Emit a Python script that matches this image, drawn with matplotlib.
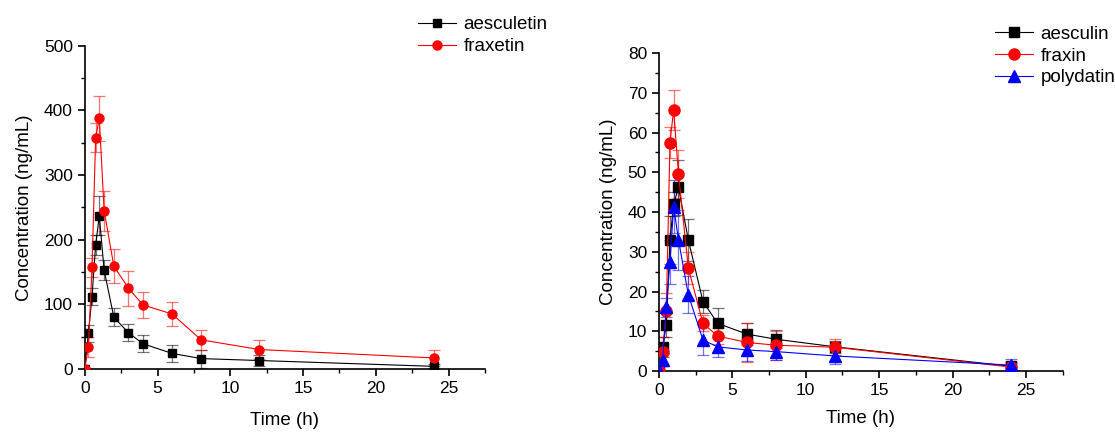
import matplotlib
matplotlib.use("Agg")
import matplotlib.pyplot as plt
from matplotlib.ticker import MultipleLocator, AutoMinorLocator

plt.rcParams['font.family'] = ['Liberation Sans', 'DejaVu Sans']

time = [0, 0.25, 0.5, 0.75, 1, 1.33, 2, 3, 4, 6, 8, 12, 24]

# Left panel
aesculetin = [0, 55, 112, 192, 237, 153, 80, 56, 39, 24, 16, 13, 4]
aesculetin_sd = [0, 13, 13, 16, 30, 16, 14, 13, 13, 13, 14, 8, 3]
fraxetin = [0, 34, 157, 358, 388, 245, 159, 125, 99, 85, 45, 30, 17]
fraxetin_sd = [0, 15, 15, 23, 35, 31, 26, 27, 20, 18, 15, 15, 12]

# Right panel
aesculin = [0, 6.1, 11.6, 33, 42, 46.2, 33, 17.5, 12, 9.3, 8, 6.1, 1.2]
aesculin_sd = [0, 2.5, 3, 6, 3, 7, 5.2, 3, 3.8, 2.7, 2.3, 1.5, 1]
fraxin = [0, 4.9, 15, 57.5, 65.7, 49.6, 25.9, 12, 8.8, 7.2, 6.5, 6.0, 1.0]
fraxin_sd = [0, 3.7, 4.6, 3.8, 5, 6, 4, 2, 2, 4.8, 3.7, 2, 1]
polydatin = [0, 2.9, 16, 27.5, 41.4, 33, 19.2, 7.8, 6.1, 5.3, 4.9, 3.8, 1.5]
polydatin_sd = [0, 1.5, 2.5, 5.5, 6.7, 7.5, 4.6, 3.8, 2.6, 2.8, 2, 2, 1.5]

fig = plt.figure(figsize=(11.15, 4.32), dpi=100)
ax1 = fig.add_axes([0.076, 0.146, 0.359, 0.748])
ax2 = fig.add_axes([0.591, 0.141, 0.362, 0.736])


def series(ax, y, sd, color, marker, label, ms):
    ax.errorbar(time, y, yerr=sd, fmt='none', ecolor=color, alpha=0.55,
                elinewidth=0.9, capsize=4, capthick=0.9, zorder=2)
    ax.plot(time, y, color=color, lw=0.8, marker=marker, ms=ms,
            label=label, zorder=3, alpha=1)


series(ax1, aesculetin, aesculetin_sd, 'black', 's', 'aesculetin', 6)
series(ax1, fraxetin, fraxetin_sd, '#ff0000', 'o', 'fraxetin', 6.5)

series(ax2, aesculin, aesculin_sd, 'black', 's', 'aesculin', 7)
series(ax2, fraxin, fraxin_sd, '#ff0000', 'o', 'fraxin', 8)
series(ax2, polydatin, polydatin_sd, '#0000ff', '^', 'polydatin', 8)

ax1.set_xlim(0, 27.5)
ax1.set_ylim(0, 500)
ax1.yaxis.set_major_locator(MultipleLocator(100))
ax2.set_xlim(0, 27.5)
ax2.set_ylim(0, 80)
ax2.yaxis.set_major_locator(MultipleLocator(10))

for ax in (ax1, ax2):
    ax.xaxis.set_major_locator(MultipleLocator(5))
    ax.xaxis.set_minor_locator(AutoMinorLocator(2))
    ax.yaxis.set_minor_locator(AutoMinorLocator(2))
    ax.spines['top'].set_visible(False)
    ax.spines['right'].set_visible(False)
    ax.spines['left'].set_linewidth(1.2)
    ax.spines['bottom'].set_linewidth(1.2)
    ax.tick_params(which='major', direction='out', length=5, width=1.2,
                   labelsize=12.5)
    ax.tick_params(which='minor', direction='out', length=3, width=1.0)
    ax.set_ylabel('Concentration (ng/mL)', fontsize=13.5, labelpad=8)

ax1.set_xlabel('Time (h)', fontsize=13.5, labelpad=12)
ax2.set_xlabel('Time (h)', fontsize=13.5, labelpad=9)

ax1.legend(loc='upper left', bbox_to_anchor=(0.815, 1.115), frameon=False,
           fontsize=13.5, handlelength=2.0, handletextpad=0.4,
           borderaxespad=0, labelspacing=0.25)
ax2.legend(loc='upper left', bbox_to_anchor=(0.815, 1.11), frameon=False,
           fontsize=13.5, handlelength=2.0, handletextpad=0.4,
           borderaxespad=0, labelspacing=0.25)

fig.savefig('out.png', dpi=100)
